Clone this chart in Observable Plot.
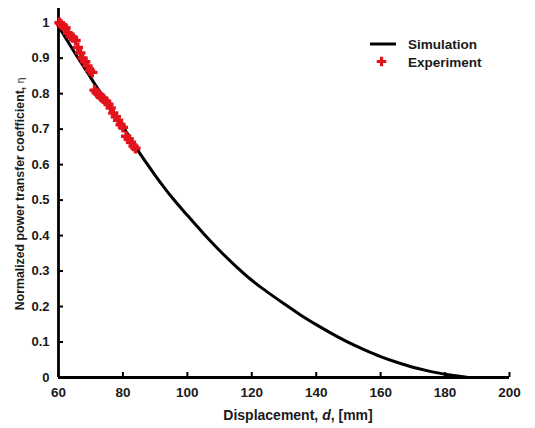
<!DOCTYPE html>
<html>
<head>
<meta charset="utf-8">
<script src="https://cdn.jsdelivr.net/npm/d3@7"></script>
<script src="https://cdn.jsdelivr.net/npm/@observablehq/plot@0.6"></script>
<style>
  html, body { margin: 0; padding: 0; background: #fff; }
  #chart { width: 535px; height: 428px; }
  svg { font-family: Arial, "Liberation Sans", sans-serif; }
</style>
</head>
<body>
<div id="chart"></div>
<script>
// Simulation curve (displacement in mm, normalized coefficient)
const simD   = [60, 65, 70, 75, 80, 85, 90, 95, 100, 105, 110, 115, 120, 125, 130, 135, 140, 145, 150, 155, 160, 165, 170, 175, 180, 185, 187];
const simEta = [0.99, 0.916, 0.845, 0.775, 0.707, 0.635, 0.57, 0.51, 0.457, 0.406, 0.358, 0.314, 0.274, 0.24, 0.208, 0.177, 0.149, 0.123, 0.099, 0.078, 0.059, 0.043, 0.029, 0.018, 0.009, 0.003, 0];

// Experiment measurements
const expD   = [60.3, 60.8, 61.5, 62.2, 63.0, 63.8, 64.5, 65.3, 66.0, 66.8, 67.5, 68.3, 69.0, 69.8, 70.5, 71.2, 71.8, 72.5, 73.2, 74.0, 74.8, 75.5, 76.2, 77.0, 77.8, 78.5, 79.3, 80.0, 81.0, 81.8, 82.5, 83.3, 83.9];
const expEta = [1.0, 0.995, 0.99, 0.985, 0.97, 0.962, 0.958, 0.95, 0.93, 0.915, 0.9, 0.89, 0.878, 0.865, 0.86, 0.81, 0.803, 0.798, 0.79, 0.785, 0.778, 0.77, 0.76, 0.745, 0.735, 0.725, 0.712, 0.705, 0.68, 0.672, 0.663, 0.652, 0.646];

const xTicks = [60, 80, 100, 120, 140, 160, 180, 200];
const yTicks = [0, 0.1, 0.2, 0.3, 0.4, 0.5, 0.6, 0.7, 0.8, 0.9, 1];

const sim = simD.map((d, i) => ({d, eta: simEta[i]}));
const meas = expD.map((d, i) => ({d, eta: expEta[i]}));

const W = 535, H = 428;
const mL = 58, mR = 26, mT = 8, mB = 51;
const plotW = W - mL - mR, plotH = H - mT - mB;
const red = "#e3131c";

const chart = Plot.plot({
  width: W,
  height: H,
  marginLeft: mL,
  marginRight: mR,
  marginTop: mT,
  marginBottom: mB,
  style: {fontFamily: "Arial, 'Liberation Sans', sans-serif", fontSize: "13px", fontWeight: "bold", color: "#1a1a1a", background: "#fff"},
  x: {domain: [60, 200]},
  y: {domain: [0, 1.04]},
  marks: [
    Plot.axisX({ticks: xTicks, tickSize: 0, tickPadding: 10, label: null, tickFormat: d => String(d), fontSize: 13.5, fontWeight: "bold"}),
    Plot.axisY({ticks: yTicks, tickSize: 0, tickPadding: 9, label: null, tickFormat: d => String(d), fontSize: 13, fontWeight: "bold"}),
    Plot.tickX(xTicks, {x: d => d, stroke: "#000", strokeWidth: 2, insetTop: plotH - 5}),
    Plot.tickY(yTicks, {y: d => d, stroke: "#000", strokeWidth: 2, insetRight: plotW - 5}),
    Plot.ruleX([60], {stroke: "#000", strokeWidth: 2.8}),
    Plot.ruleY([0], {stroke: "#000", strokeWidth: 2.8}),
    Plot.line(sim, {x: "d", y: "eta", stroke: "#000", strokeWidth: 3, curve: "monotone-x"}),
    Plot.dot(meas, {x: "d", y: "eta", symbol: "cross", r: 4.3, fill: red, stroke: "none"})
  ]
});

document.getElementById("chart").appendChild(chart);

const svg = d3.select(chart);
const font = "Arial, 'Liberation Sans', sans-serif";

// Y axis title
const yt = svg.append("text")
  .attr("transform", `translate(21, 194) rotate(-90)`)
  .attr("text-anchor", "middle")
  .attr("dominant-baseline", "middle")
  .attr("font-family", font)
  .attr("font-size", 12.3)
  .attr("font-weight", "bold")
  .attr("fill", "#1a1a1a");
yt.append("tspan").text("Normalized power transfer coefficient, ");
yt.append("tspan").attr("font-weight", "normal").attr("font-size", 10).text("η");

// X axis title
const xt = svg.append("text")
  .attr("x", 298)
  .attr("y", 420)
  .attr("text-anchor", "middle")
  .attr("font-family", font)
  .attr("font-size", 14)
  .attr("font-weight", "bold")
  .attr("fill", "#1a1a1a");
xt.append("tspan").text("Displacement, ");
xt.append("tspan").attr("font-style", "italic").text("d");
xt.append("tspan").text(", [mm]");

// Legend
const lg = svg.append("g").attr("font-family", font).attr("font-size", 13.5).attr("font-weight", "bold").attr("fill", "#1a1a1a").attr("text-anchor", "start");
lg.append("line").attr("x1", 370).attr("x2", 396).attr("y1", 44).attr("y2", 44).attr("stroke", "#000").attr("stroke-width", 3);
lg.append("text").attr("x", 408).attr("y", 49).text("Simulation");
lg.append("path").attr("d", d3.symbol(d3.symbolCross, Math.PI * 16)()).attr("transform", "translate(381.5, 61.5)").attr("fill", red);
lg.append("text").attr("x", 408).attr("y", 66.5).text("Experiment");
</script>
</body>
</html>
